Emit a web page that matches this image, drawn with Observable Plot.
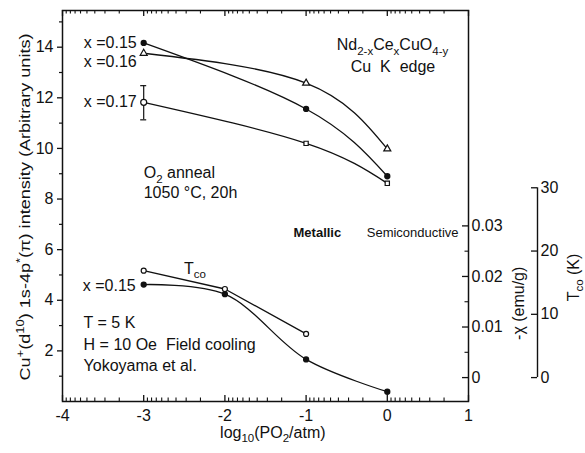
<!DOCTYPE html>
<html>
<head>
<meta charset="utf-8">
<script src="https://cdn.jsdelivr.net/npm/d3@7"></script>
<script src="https://cdn.jsdelivr.net/npm/@observablehq/plot@0.6"></script>
<style>
  html, body { margin: 0; padding: 0; background: #fff; }
  #chart { width: 585px; height: 453px; }
</style>
</head>
<body>
<div id="chart"></div>
<script>
// ---- data ----
const pO2 = [-3, -1, 0];                 // log10(PO2/atm), XANES series
const int015 = [14.17, 11.56, 8.90];     // x = 0.15 (filled circles)
const int016 = [13.76, 12.58, 9.98];     // x = 0.16 (triangles)
const int017 = [11.82, 10.20, 8.62];     // x = 0.17 (open circle / squares)
const errX = [-3];                       // error bar on x = 0.17
const errLow = [11.13];
const errHigh = [12.48];

const pO2Chi = [-3, -2, -1, 0];
const chi015 = [0.0184, 0.0165, 0.0036, -0.0028];   // -chi (emu/g)
const pO2Tco = [-3, -2, -1];
const tco = [16.9, 14.0, 6.9];                      // Tco (K)

// ---- ticks ----
const yTicks = [2, 4, 6, 8, 10, 12, 14];
const yMinor = [1, 3, 5, 7, 9, 11, 13, 15];
const xTicks = [-4, -3, -2, -1, 0, 1];
const chiTicks = [0, 0.01, 0.02, 0.03];
const chiTickLabels = ["0", "0.01", "0.02", "0.03"];
const chiMinor = [0.005, 0.015, 0.025];
const tcoTicks = [0, 10, 20, 30];
const tcoTickLabels = ["0", "10", "20", "30"];

// ---- layout / axis alignment ----
const W = 585, H = 453, mL = 62, mR = 117, mT = 10, mB = 52;
const xDom = [-4, 1], yDom = [0, 15.45];
const pxX = (xDom[1] - xDom[0]) / (W - mL - mR);   // data units per px (x)
const pxY = (yDom[1] - yDom[0]) / (H - mT - mB);   // data units per px (y)
const chiToY = c => 0.945 + c * 199.8;             // right axis 1 alignment
const tcoToY = t => 0.945 + t * 0.25;              // right axis 2 alignment
const tcoAxisX = 1 + 69 * pxX;

const xMinor = [];
for (let n = -4; n < 1; n++) for (let k = 2; k <= 9; k++) xMinor.push(n + 1 - Math.log10(k));

const upper = (ys) => pO2.map((x, i) => ({x, y: ys[i]}));
const s015 = upper(int015), s016 = upper(int016), s017 = upper(int017);
const sChi = pO2Chi.map((x, i) => ({x, y: chiToY(chi015[i])}));
const sTco = pO2Tco.map((x, i) => ({x, y: tcoToY(tco[i])}));
const errs = errX.map((x, i) => ({x, lo: errLow[i], hi: errHigh[i]}));

const FONT = "'Liberation Sans', Arial, Helvetica, sans-serif";
const lw = 1.3;
const yTitle = "Cu^{+}(d^{10}) 1s-4p^{*}(π) intensity (Arbitrary units)";
const fitWidths = new Map([[yTitle, 347]]);

const chart = Plot.plot({
  width: W, height: H,
  marginLeft: mL, marginRight: mR, marginTop: mT, marginBottom: mB,
  x: {domain: xDom, axis: null},
  y: {domain: yDom, axis: null},
  style: {fontFamily: FONT, fontSize: "15px", background: "#fff", color: "#111"},
  marks: [
    Plot.frame({stroke: "#111", strokeWidth: 1.5}),
    // left axis
    Plot.axisY(yTicks, {anchor: "left", tickSize: 5, tickPadding: 4, fontSize: 16, label: null, strokeWidth: 1.3}),
    Plot.axisY(yMinor, {anchor: "left", tickSize: 3, tickFormat: () => "", label: null, strokeWidth: 1.2}),
    // bottom axis labels, inward ticks on bottom and top
    Plot.axisX(xTicks, {anchor: "bottom", tickSize: 0, tickPadding: 8, fontSize: 16, label: null, tickFormat: d => String(d)}),
    Plot.ruleX(xTicks, {x: d => d, y1: yDom[0], y2: yDom[0] + 6 * pxY, stroke: "#111", strokeWidth: 1.3}),
    Plot.ruleX(xMinor, {x: d => d, y1: yDom[0], y2: yDom[0] + 3.5 * pxY, stroke: "#111", strokeWidth: 1.1}),
    Plot.ruleX(xTicks, {x: d => d, y1: yDom[1] - 6 * pxY, y2: yDom[1], stroke: "#111", strokeWidth: 1.3}),
    Plot.ruleX(xMinor, {x: d => d, y1: yDom[1] - 3.5 * pxY, y2: yDom[1], stroke: "#111", strokeWidth: 1.1}),
    // chi axis on the right frame edge
    Plot.ruleY(chiTicks, {y: chiToY, x1: xDom[1] - 6 * pxX, x2: xDom[1], stroke: "#111", strokeWidth: 1.3}),
    Plot.ruleY(chiMinor, {y: chiToY, x1: xDom[1] - 3.5 * pxX, x2: xDom[1], stroke: "#111", strokeWidth: 1.1}),
    Plot.text(chiTicks, {x: xDom[1], y: chiToY, text: (d, i) => chiTickLabels[i], textAnchor: "start", dx: 3, fontSize: 16}),
    // Tco axis
    Plot.ruleX([tcoAxisX], {x: d => d, y1: tcoToY(tcoTicks[0]), y2: tcoToY(tcoTicks[tcoTicks.length - 1]), stroke: "#111", strokeWidth: 1.4}),
    Plot.ruleY(tcoTicks, {y: tcoToY, x1: tcoAxisX - 6 * pxX, x2: tcoAxisX, stroke: "#111", strokeWidth: 1.3}),
    Plot.text(tcoTicks, {x: tcoAxisX, y: tcoToY, text: (d, i) => tcoTickLabels[i], textAnchor: "start", dx: 3, fontSize: 16}),
    // axis titles
    Plot.text([yTitle], {frameAnchor: "left", dx: -37, y: 21 * pxY, rotate: -90, textAnchor: "start", fontSize: 15}),
    Plot.text(["log_{10}(PO_{2}/atm)"], {frameAnchor: "bottom", x: -1.41, dy: 36, fontSize: 16}),
    Plot.text(["-χ (emu/g)"], {x: xDom[1] + 50 * pxX, y: 3.88, rotate: -90, fontSize: 16}),
    Plot.text(["T_{co} (K)"], {x: xDom[1] + 105 * pxX, y: 4.9, rotate: -90, fontSize: 16}),
    // upper series
    Plot.line(s015, {x: "x", y: "y", curve: "natural", stroke: "#111", strokeWidth: lw}),
    Plot.line(s016, {x: "x", y: "y", curve: "natural", stroke: "#111", strokeWidth: lw}),
    Plot.line(s017, {x: "x", y: "y", curve: "natural", stroke: "#111", strokeWidth: lw}),
    Plot.ruleX(errs, {x: "x", y1: "lo", y2: "hi", stroke: "#111", strokeWidth: 1.2}),
    Plot.ruleY(errs, {y: "lo", x1: d => d.x - 3 * pxX, x2: d => d.x + 3 * pxX, stroke: "#111", strokeWidth: 1.2}),
    Plot.ruleY(errs, {y: "hi", x1: d => d.x - 3 * pxX, x2: d => d.x + 3 * pxX, stroke: "#111", strokeWidth: 1.2}),
    Plot.dot(s015, {x: "x", y: "y", r: 2.4, fill: "#111", stroke: "#111"}),
    Plot.dot(s016, {x: "x", y: "y", symbol: "triangle", r: 2.6, fill: "#fff", stroke: "#111", strokeWidth: 1.2}),
    Plot.dot(s017.slice(0, 1), {x: "x", y: "y", r: 3, fill: "#fff", stroke: "#111", strokeWidth: 1.2}),
    Plot.dot(s017.slice(1), {x: "x", y: "y", symbol: "square", r: 2.4, fill: "#fff", stroke: "#111", strokeWidth: 1.2}),
    // lower series
    Plot.line(sChi, {x: "x", y: "y", curve: "catmull-rom", stroke: "#111", strokeWidth: lw}),
    Plot.line(sTco, {x: "x", y: "y", curve: "linear", stroke: "#111", strokeWidth: lw}),
    Plot.dot(sChi, {x: "x", y: "y", r: 2.4, fill: "#111", stroke: "#111"}),
    Plot.dot(sTco, {x: "x", y: "y", r: 2.5, fill: "#fff", stroke: "#111", strokeWidth: 1.2}),
    // annotations
    Plot.text(s015.slice(0, 1), {x: "x", y: "y", text: () => "x =0.15", textAnchor: "end", dx: -7, fontSize: 16}),
    Plot.text(s016.slice(0, 1), {x: "x", y: "y", text: () => "x =0.16", textAnchor: "end", dx: -7, dy: 9, fontSize: 16}),
    Plot.text(s017.slice(0, 1), {x: "x", y: "y", text: () => "x =0.17", textAnchor: "end", dx: -7, fontSize: 16}),
    Plot.text(sChi.slice(0, 1), {x: "x", y: "y", text: () => "x =0.15", textAnchor: "end", dx: -8, dy: 1, fontSize: 16}),
    Plot.text(["T_{co}"], {x: -2.37, y: 5.26, fontSize: 16}),
    Plot.text(["Nd_{2-x}Ce_{x}CuO_{4-y}"], {x: 0.064, y: 14.08, fontSize: 16}),
    Plot.text(["Cu  K  edge"], {x: 0.07, y: 13.21, fontSize: 16}),
    Plot.text(["O_{2} anneal"], {x: -3.0, y: 9.02, textAnchor: "start", fontSize: 16}),
    Plot.text(["1050 °C, 20h"], {x: -3.0, y: 8.23, textAnchor: "start", fontSize: 16}),
    Plot.text(["Metallic"], {x: -1.155, y: 6.65, textAnchor: "start", fontSize: 13, fontWeight: "bold"}),
    Plot.text(["Semiconductive"], {x: 0.877, y: 6.65, textAnchor: "end", fontSize: 13}),
    Plot.text(["T = 5 K"], {x: -3.74, y: 3.09, textAnchor: "start", fontSize: 16}),
    Plot.text(["H = 10 Oe  Field cooling"], {x: -3.74, y: 2.22, textAnchor: "start", fontSize: 16}),
    Plot.text(["Yokoyama et al."], {x: -3.74, y: 1.42, textAnchor: "start", fontSize: 16})
  ]
});

document.getElementById("chart").appendChild(chart);

// sub/superscript rendering for texts written as a_{b} / a^{b}
chart.querySelectorAll("text").forEach(t => {
  const s = t.textContent;
  if (fitWidths.has(s)) {
    t.setAttribute("textLength", fitWidths.get(s));
    t.setAttribute("lengthAdjust", "spacingAndGlyphs");
  }
  if (!/[_^]\{/.test(s)) return;
  const fs = parseFloat(getComputedStyle(t).fontSize) || 15;
  while (t.firstChild) t.removeChild(t.firstChild);
  const re = /([_^])\{([^}]*)\}/g;
  let last = 0, cur = 0, m;
  const add = (str, off, small) => {
    const ts = document.createElementNS("http://www.w3.org/2000/svg", "tspan");
    ts.setAttribute("dy", (off - cur) + "px");
    cur = off;
    if (small) ts.setAttribute("font-size", (fs * 0.72) + "px");
    ts.textContent = str;
    t.appendChild(ts);
  };
  while ((m = re.exec(s))) {
    if (m.index > last) add(s.slice(last, m.index), 0, false);
    add(m[2], m[1] === "_" ? fs * 0.3 : -fs * 0.42, true);
    last = re.lastIndex;
  }
  if (last < s.length) add(s.slice(last), 0, false);
});
</script>
</body>
</html>
